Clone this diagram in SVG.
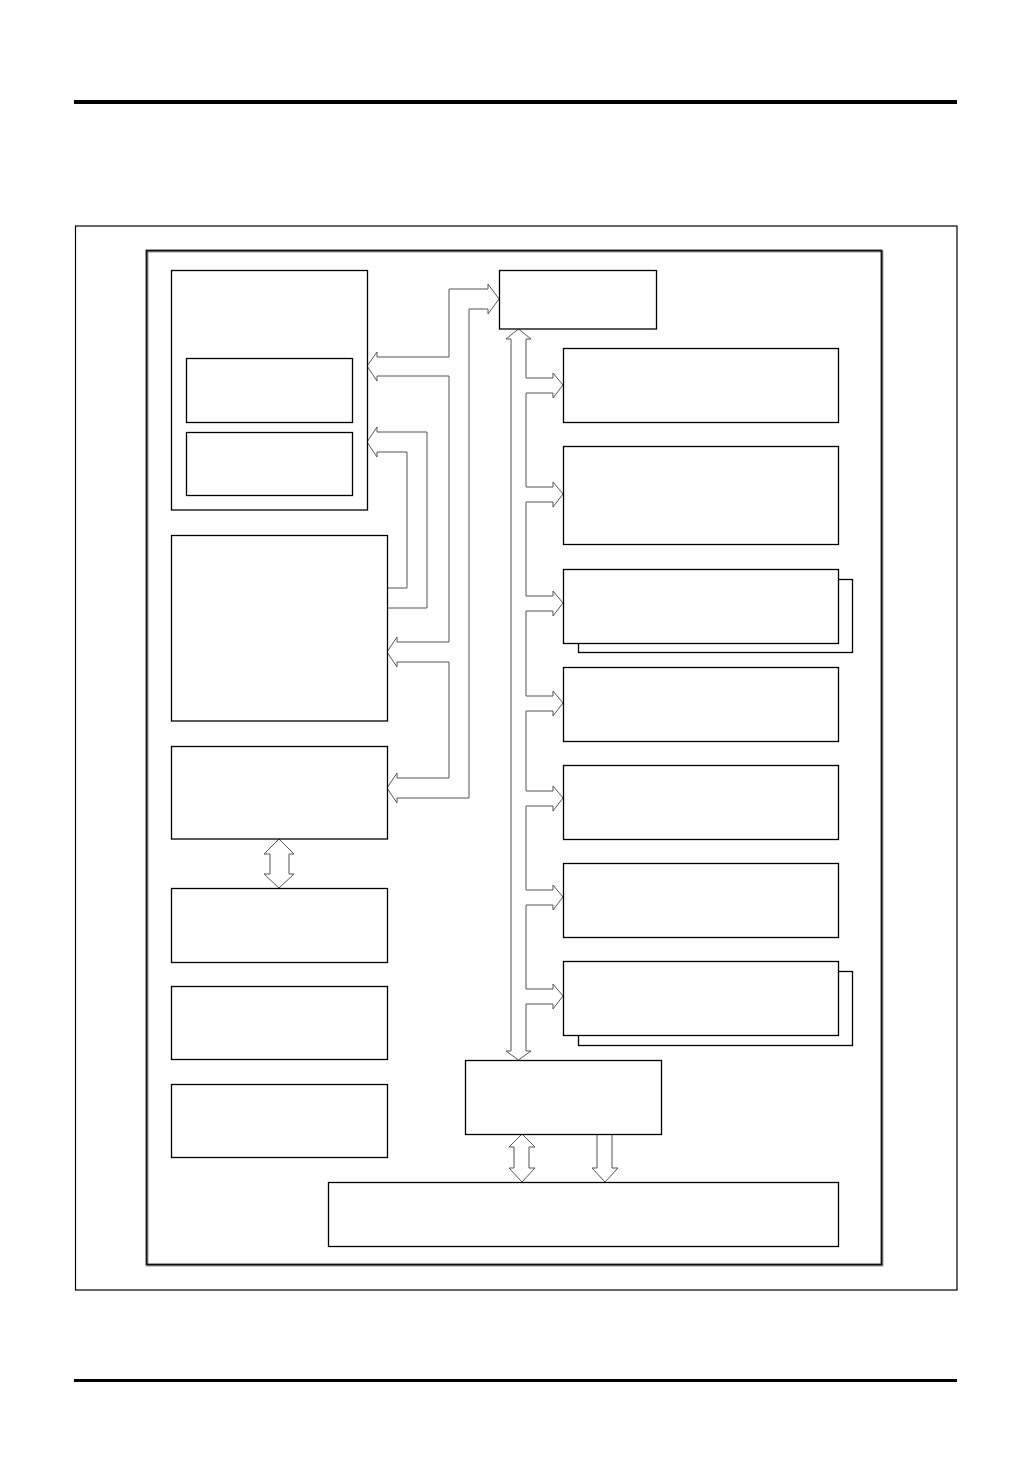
<svg xmlns="http://www.w3.org/2000/svg" width="1032" height="1458" viewBox="0 0 1032 1458">
<style>
.box{fill:#fff;stroke:#000;stroke-width:1.3}
.con{fill:#fff;stroke:#555;stroke-width:1;stroke-linejoin:miter}
.open{fill:none;stroke:#555;stroke-width:1}
</style>
<rect width="1032" height="1458" fill="#fff"/>
<rect x="74" y="100" width="883" height="4" fill="#000"/>
<rect x="74" y="1379" width="883" height="3" fill="#000"/>
<rect x="75.5" y="226" width="881.5" height="1064" fill="none" stroke="#000" stroke-width="1.2"/>
<rect x="147.5" y="251.5" width="735" height="1014" fill="none" stroke="#999" stroke-width="2"/>
<rect x="146.5" y="250.5" width="735" height="1014" fill="none" stroke="#111" stroke-width="1.8"/>

<g id="connectors">
<path class="con" d="M499,299 L488,314 L488,309 L469,309 L469,798 L397,798 L397,803 L387,788 L397,773 L397,778 L449,778 L449,662 L397,662 L397,667 L387,652 L397,637 L397,642 L449,642 L449,376 L377,376 L377,381 L367,366 L377,352 L377,357 L449,357 L449,289 L488,289 L488,284 Z"/>
<path class="open" d="M387,588 L407,588 L407,452 L377,452 L377,457 L367,442 L377,427 L377,432 L427,432 L427,608 L387,608"/>
<path class="con" d="M518.5,329 L531,339 L526,339
L526,378 L553,378 L553,373 L563,385 L553,398 L553,393 L526,393
L526,487 L553,487 L553,482 L563,494 L553,507 L553,502 L526,502
L526,596 L553,596 L553,591 L563,603 L553,616 L553,611 L526,611
L526,696 L553,696 L553,691 L563,703 L553,716 L553,711 L526,711
L526,791 L553,791 L553,786 L563,798 L553,811 L553,806 L526,806
L526,890 L553,890 L553,885 L563,897 L553,910 L553,905 L526,905
L526,989 L553,989 L553,984 L563,996 L553,1009 L553,1004 L526,1004
L526,1051 L531,1051 L518.5,1060 L506,1051 L511,1051 L511,339 L506,339 Z"/>
<path class="con" d="M279,839 L294,854 L289,854 L289,874 L294,874 L279,888 L264,874 L270,874 L270,854 L264,854 Z"/>
<path class="con" d="M522,1134 L535,1147 L529,1147 L529,1168 L535,1168 L522,1182 L509,1168 L514,1168 L514,1147 L509,1147 Z"/>
<path class="con" d="M597,1134 L612,1134 L612,1168 L618,1168 L605,1182 L592,1168 L597,1168 Z"/>
</g>

<g id="nodeA">
<rect class="box" x="171.5" y="270.5" width="196" height="239.5"/>
<rect class="box" x="186.5" y="358.5" width="166" height="64"/>
<rect class="box" x="186.5" y="432.5" width="166" height="63"/>
</g>
<g id="nodeB"><rect class="box" x="171.5" y="535.5" width="216" height="185.5"/></g>
<g id="nodeC"><rect class="box" x="171.5" y="746.5" width="216" height="92.5"/></g>
<g id="nodeD"><rect class="box" x="171.5" y="888.5" width="216" height="74"/></g>
<g id="nodeE"><rect class="box" x="171.5" y="986.5" width="216" height="73"/></g>
<g id="nodeF"><rect class="box" x="171.5" y="1084.5" width="216" height="73"/></g>
<g id="nodeTop"><rect class="box" x="499.5" y="270.5" width="157" height="58.5"/></g>
<g id="nodeR1"><rect class="box" x="563.5" y="348.5" width="275" height="74"/></g>
<g id="nodeR2"><rect class="box" x="563.5" y="446.5" width="275" height="98"/></g>
<g id="nodeR3">
<rect class="box" x="578.5" y="579.5" width="274" height="73"/>
<rect class="box" x="563.5" y="569.5" width="275" height="74"/>
</g>
<g id="nodeR4"><rect class="box" x="563.5" y="667.5" width="275" height="74"/></g>
<g id="nodeR5"><rect class="box" x="563.5" y="765.5" width="275" height="74"/></g>
<g id="nodeR6"><rect class="box" x="563.5" y="863.5" width="275" height="74"/></g>
<g id="nodeR7">
<rect class="box" x="578.5" y="971.5" width="274" height="74"/>
<rect class="box" x="563.5" y="961.5" width="275" height="74"/>
</g>
<g id="nodeBus"><rect class="box" x="465.5" y="1060.5" width="196" height="74"/></g>
<g id="nodeBottom"><rect class="box" x="328.5" y="1182.5" width="510" height="64"/></g>
</svg>
